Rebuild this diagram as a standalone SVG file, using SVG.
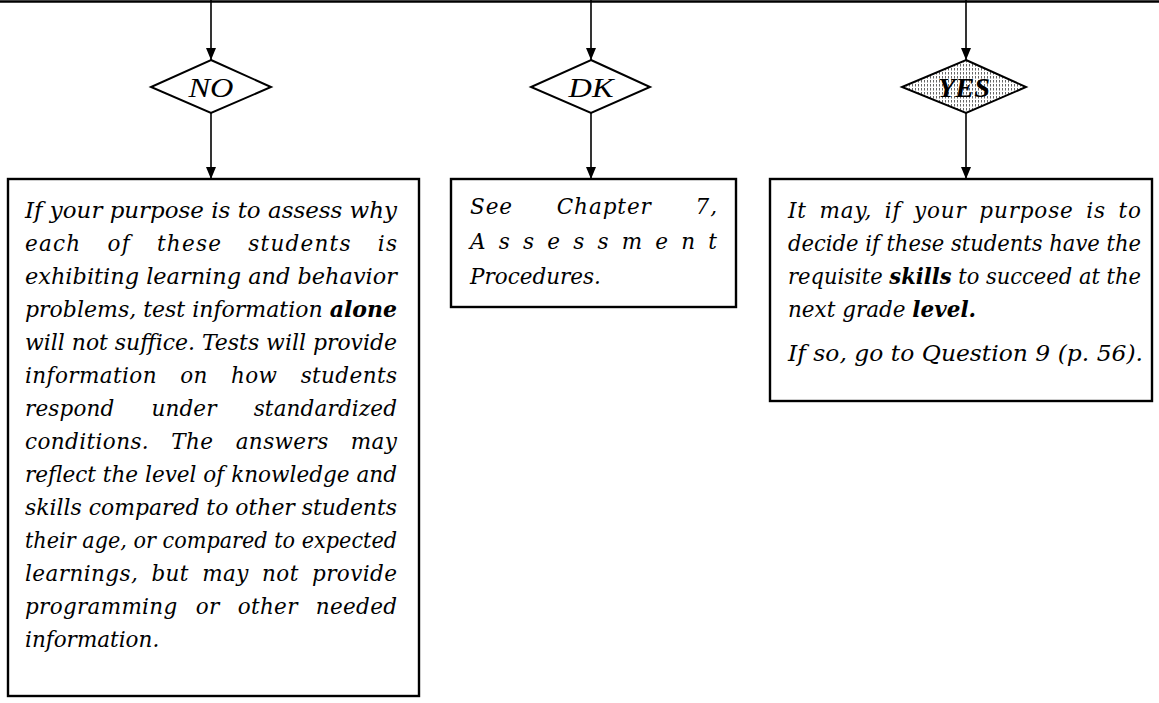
<svg xmlns="http://www.w3.org/2000/svg" width="1159" height="703" viewBox="0 0 1159 703">
<style>
.ln{stroke:#000;stroke-width:1.6;fill:none}
.box{fill:#fff;stroke:#000;stroke-width:2.4}
.dia{fill:#fff;stroke:#000;stroke-width:2}
.t{font-family:"DejaVu Serif","Liberation Serif",serif;font-style:italic;font-size:21.5px;fill:#000}
.lab{font-family:"Liberation Serif","Times New Roman",serif;font-style:italic;font-size:27px;fill:#000;text-anchor:middle}
.b{font-weight:bold}
</style>
<defs>
<marker id="ah" viewBox="0 0 12 10" refX="12" refY="5" markerWidth="12" markerHeight="10" markerUnits="userSpaceOnUse" orient="auto">
<path d="M0,0 L12,5 L0,10 Z" fill="#000"/>
</marker>
<pattern id="shade" width="3" height="4" patternUnits="userSpaceOnUse">
<rect width="3" height="4" fill="#fff"/>
<rect x="0" y="0" width="1" height="2.5" fill="#666"/>
</pattern>
</defs>

<g id="connectors">
<line class="ln" x1="0" y1="1.5" x2="1159" y2="1.5" style="stroke-width:2.5"/>
<line class="ln" x1="211" y1="0" x2="211" y2="60" marker-end="url(#ah)"/>
<line class="ln" x1="211" y1="113" x2="211" y2="179" marker-end="url(#ah)"/>
<line class="ln" x1="591" y1="0" x2="591" y2="60" marker-end="url(#ah)"/>
<line class="ln" x1="591" y1="113" x2="591" y2="179" marker-end="url(#ah)"/>
<line class="ln" x1="966" y1="0" x2="966" y2="60" marker-end="url(#ah)"/>
<line class="ln" x1="966" y1="113" x2="966" y2="179" marker-end="url(#ah)"/>
</g>

<g id="node-no">
<polygon class="dia" points="211,60 271,87 211,113 151,87"/>
<text class="lab" x="211" y="97" textLength="45" lengthAdjust="spacingAndGlyphs">NO</text>
</g>

<g id="node-dk">
<polygon class="dia" points="591,60 650,87 591,113 531,87"/>
<text class="lab" x="591" y="97" textLength="45" lengthAdjust="spacingAndGlyphs">DK</text>
</g>

<g id="node-yes">
<polygon class="dia" points="966,60 1026,87 966,113 902,87" style="fill:url(#shade)"/>
<text class="lab b" x="964" y="97" textLength="52" lengthAdjust="spacingAndGlyphs">YES</text>
</g>

<g id="box-no">
<rect class="box" x="8" y="179" width="411" height="517"/>
<text class="t" x="25" y="218" textLength="372" lengthAdjust="spacingAndGlyphs">If your purpose is to assess why</text>
<text class="t" x="25" y="251" textLength="372" lengthAdjust="spacing" style="word-spacing:18px">each of these students is</text>
<text class="t" x="25" y="284" textLength="372" lengthAdjust="spacingAndGlyphs">exhibiting learning and behavior</text>
<text class="t" x="25" y="317" textLength="372" lengthAdjust="spacingAndGlyphs">problems, test information <tspan class="b">alone</tspan></text>
<text class="t" x="25" y="350" textLength="372" lengthAdjust="spacingAndGlyphs">will not suffice. Tests will provide</text>
<text class="t" x="25" y="383" textLength="372" lengthAdjust="spacing" style="word-spacing:16px">information on how students</text>
<text class="t" x="25" y="416" textLength="372" lengthAdjust="spacing" style="word-spacing:30px">respond under standardized</text>
<text class="t" x="25" y="449" textLength="372" lengthAdjust="spacing" style="word-spacing:15px">conditions. The answers may</text>
<text class="t" x="25" y="482" textLength="372" lengthAdjust="spacingAndGlyphs">reflect the level of knowledge and</text>
<text class="t" x="25" y="515" textLength="372" lengthAdjust="spacingAndGlyphs">skills compared to other students</text>
<text class="t" x="25" y="548" textLength="372" lengthAdjust="spacingAndGlyphs">their age, or compared to expected</text>
<text class="t" x="25" y="581" textLength="372" lengthAdjust="spacing" style="word-spacing:6px">learnings, but may not provide</text>
<text class="t" x="25" y="614" textLength="372" lengthAdjust="spacing" style="word-spacing:11px">programming or other needed</text>
<text class="t" x="25" y="647">information.</text>
</g>

<g id="box-dk">
<rect class="box" x="451" y="179" width="285" height="128"/>
<text class="t" x="470" y="214" textLength="247" lengthAdjust="spacing" style="word-spacing:36px">See Chapter 7,</text>
<text class="t" x="470" y="249" textLength="247" lengthAdjust="spacing">Assessment</text>
<text class="t" x="470" y="284">Procedures.</text>
</g>

<g id="box-yes">
<rect class="box" x="770" y="179" width="382" height="222"/>
<text class="t" x="788" y="218" textLength="353" lengthAdjust="spacing" style="word-spacing:5px">It may, if your purpose is to</text>
<text class="t" x="788" y="251" textLength="353" lengthAdjust="spacingAndGlyphs">decide if these students have the</text>
<text class="t" x="788" y="284" textLength="353" lengthAdjust="spacingAndGlyphs">requisite <tspan class="b">skills</tspan> to succeed at the</text>
<text class="t" x="788" y="317">next grade <tspan class="b">level.</tspan></text>
<text class="t" x="788" y="361" textLength="355" lengthAdjust="spacingAndGlyphs">If so, go to Question 9 (p. 56).</text>
</g>
</svg>
